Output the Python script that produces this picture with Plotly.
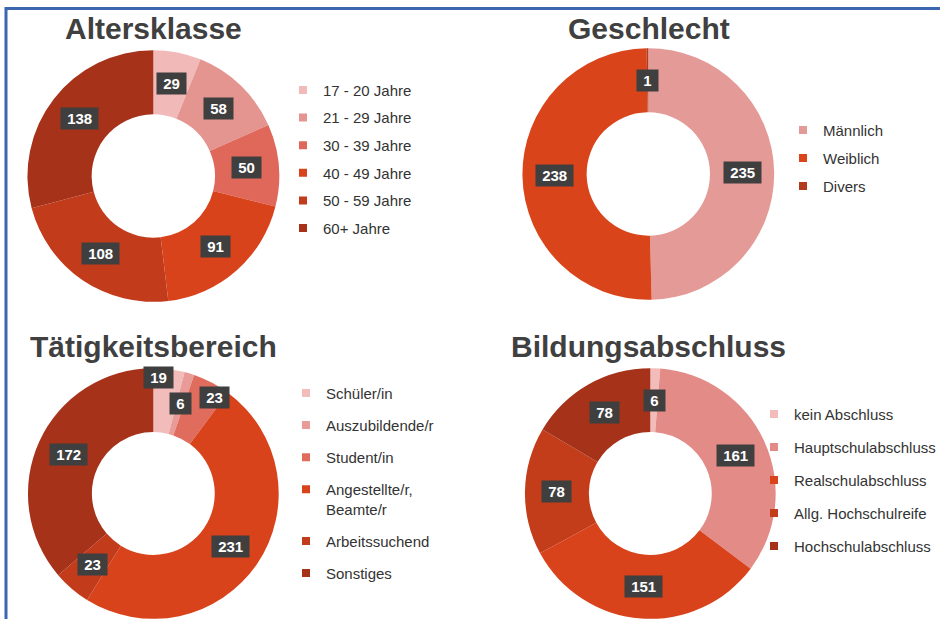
import math
import plotly.graph_objects as go

# ---------------- data ----------------
titles = ["Altersklasse", "Geschlecht", "Tätigkeitsbereich", "Bildungsabschluss"]

age_labels = ["17 - 20 Jahre", "21 - 29 Jahre", "30 - 39 Jahre", "40 - 49 Jahre", "50 - 59 Jahre", "60+ Jahre"]
age_values = [29, 58, 50, 91, 108, 138]

gender_labels = ["Männlich", "Weiblich", "Divers"]
gender_values = [235, 238, 1]

job_labels = ["Schüler/in", "Auszubildende/r", "Student/in", "Angestellte/r,<br>Beamte/r", "Arbeitssuchend", "Sonstiges"]
job_values = [19, 6, 23, 231, 23, 172]

edu_labels = ["kein Abschluss", "Hauptschulabschluss", "Realschulabschluss", "Allg. Hochschulreife", "Hochschulabschluss"]
edu_values = [6, 161, 151, 78, 78]

# ---------------- styles ----------------
W, H = 941, 619
age_colors = ["#f1b9b8", "#e4958f", "#e0685a", "#d8431b", "#c23b1b", "#a6321a"]
gender_colors = ["#e49a97", "#d9441b", "#b23a1d"]
job_colors = ["#f2bcbb", "#e99b97", "#e06c5e", "#d8431b", "#c23b1b", "#a6321a"]
edu_colors = ["#f2bcbb", "#e38c87", "#d8431b", "#c43d1b", "#a6321a"]

LEG_FONT = 15
ITEM_H = LEG_FONT * 1.3 + 3          # plotly legend item height (single line)
FIRST = 5 + ITEM_H / 2               # offset of first item centre below legend top

charts = [
    dict(labels=age_labels, values=age_values, colors=age_colors,
         box=(27.5, 50, 279.5, 302), title_xy=(154, 28),
         legend="legend", leg_xy=(283, 90), step=27.6, shifts=None),
    dict(labels=gender_labels, values=gender_values, colors=gender_colors,
         box=(523, 48, 775, 300), title_xy=(650, 28),
         legend="legend2", leg_xy=(783, 130), step=28, shifts=None),
    dict(labels=job_labels, values=job_values, colors=job_colors,
         box=(28, 368, 279, 619), title_xy=(154, 346),
         legend="legend3", leg_xy=(286, 393), step=None, shifts=[(-7, -23), (0, 0), (18, -13), (0, 0), (0, 0), (0, 0)]),
    dict(labels=edu_labels, values=edu_values, colors=edu_colors,
         box=(525.5, 368, 776.5, 619), title_xy=(649, 347),
         legend="legend4", leg_xy=(755, 414), step=33, shifts=None),
]
# legend 3: first item at 393, last at 573, one item on two lines
charts[2]["gap"] = (180 - (2 * LEG_FONT * 1.3 + 3 - ITEM_H)) / 5 - ITEM_H
for c in charts:
    if c["step"] is not None:
        c["gap"] = c["step"] - ITEM_H

HOLE = 0.49
FONT = "Arial, Liberation Sans, sans-serif"


def px(x):
    return x / W


def py(y):
    return 1 - y / H


fig = go.Figure()
annotations = []
layout_legends = {}

for ci, (c, title) in enumerate(zip(charts, titles)):
    x0, y0, x1, y1 = c["box"]
    fig.add_trace(go.Pie(
        labels=c["labels"], values=c["values"],
        marker=dict(colors=c["colors"], line=dict(width=0)),
        hole=HOLE, sort=False, direction="clockwise", rotation=0,
        textinfo="none", hoverinfo="label+value", showlegend=False,
        domain=dict(x=[px(x0), px(x1)], y=[py(y1), py(y0)]),
    ))

    # data labels at the middle of the ring
    cx, cy = (x0 + x1) / 2, (y0 + y1) / 2
    r = min(x1 - x0, y1 - y0) / 2
    rm = (HOLE + 1) / 2 * r
    total = sum(c["values"])
    cum = 0
    for i, v in enumerate(c["values"]):
        ang = 2 * math.pi * (cum + v / 2) / total
        cum += v
        lx = cx + rm * math.sin(ang)
        ly = cy - rm * math.cos(ang)
        sx, sy = (c["shifts"][i] if c["shifts"] else (0, 0))
        annotations.append(dict(
            x=px(lx), y=py(ly), xref="paper", yref="paper",
            text=f"<b>\u00a0{v}\u00a0</b>", showarrow=False,
            font=dict(family=FONT, size=15, color="white"),
            bgcolor="#3f3f3f", borderpad=2,
            xanchor="center", yanchor="middle", xshift=sx, yshift=-sy,
        ))

    # title
    tx, ty = c["title_xy"]
    annotations.append(dict(
        x=px(tx), y=py(ty), xref="paper", yref="paper",
        text=f"<b>{title}</b>", showarrow=False,
        font=dict(family=FONT, size=30, color="#404040"),
        xanchor="center", yanchor="middle",
    ))

    # legend entries
    for i, (lab, col) in enumerate(zip(c["labels"], c["colors"])):
        fig.add_trace(go.Scatter(
            x=[None], y=[None], mode="markers", name=lab,
            marker=dict(symbol="square", size=8, color=col),
            legend=c["legend"], legendgroup=f"{c['legend']}_{i}", showlegend=True,
            hoverinfo="skip",
        ))
    lx0, ly0 = c["leg_xy"]
    layout_legends[c["legend"]] = dict(
        x=px(lx0), y=py(ly0 - FIRST), xanchor="left", yanchor="top",
        bgcolor="rgba(0,0,0,0)", borderwidth=0,
        font=dict(family=FONT, size=LEG_FONT, color="#333333"),
        traceorder="grouped", tracegroupgap=c["gap"], valign="top",
    )

shapes = [
    dict(type="line", xref="paper", yref="paper", x0=px(5), x1=1, y0=py(8.5), y1=py(8.5),
         line=dict(color="#3a67b0", width=3)),
    dict(type="line", xref="paper", yref="paper", x0=px(6), x1=px(6), y0=py(7), y1=0,
         line=dict(color="#3a67b0", width=3)),
]

fig.update_layout(
    width=W, height=H,
    margin=dict(l=0, r=0, t=0, b=0),
    paper_bgcolor="white", plot_bgcolor="white",
    xaxis=dict(visible=False), yaxis=dict(visible=False),
    annotations=annotations, shapes=shapes,
    showlegend=True,
    **layout_legends,
)

fig.write_html("out.html", config={"displayModeBar": False},
               post_script="document.body.style.margin='0';")
